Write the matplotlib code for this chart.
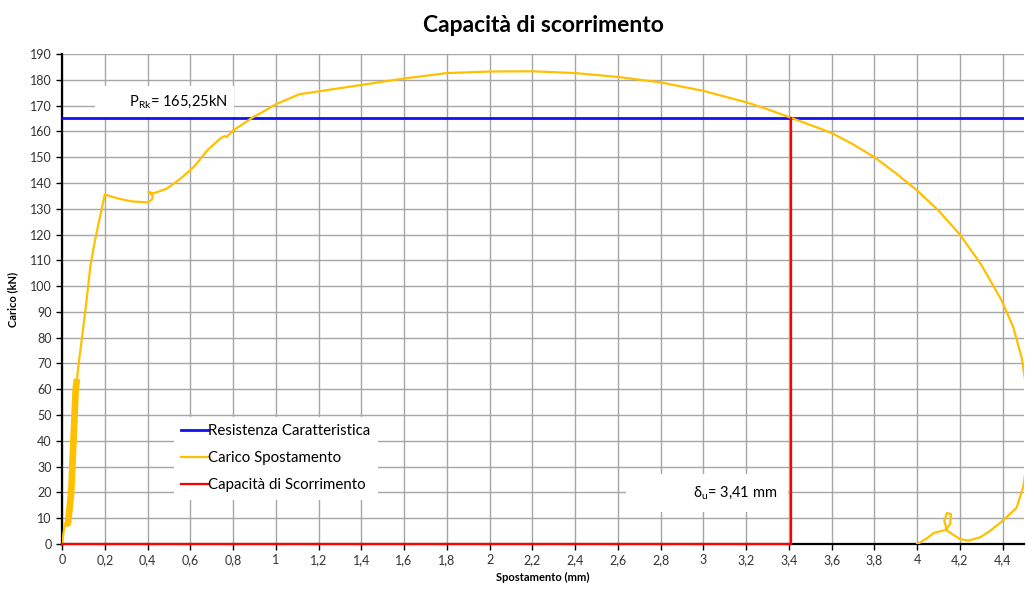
import matplotlib.pyplot as plt
from matplotlib.ticker import MultipleLocator, FuncFormatter

plt.rcParams['font.family'] = ['Lato', 'DejaVu Sans']
plt.rcParams['mathtext.default'] = 'regular'

# curva carico-spostamento (mm, kN)
# i primi punti descrivono la fascia dei cicli iniziali di assestamento
n_assestamento = 6
spostamento = [0.01, 0.016, 0.028, 0.043, 0.064, 0.07,
               0.078, 0.098, 0.115, 0.133, 0.155, 0.178, 0.2, 0.26, 0.33, 0.4, 0.42, 0.425,
               0.405, 0.43, 0.49, 0.555, 0.62, 0.68, 0.74, 0.76, 0.77, 0.8, 0.89, 0.94, 1.0,
               1.11, 1.2, 1.4, 1.6, 1.8, 2.0, 2.2, 2.4, 2.6, 2.8, 3.0, 3.2, 3.3, 3.41, 3.5,
               3.6, 3.7, 3.8, 3.9, 4.0, 4.1, 4.2, 4.3, 4.395, 4.45, 4.49, 4.51, 4.53, 4.51,
               4.496, 4.465, 4.4, 4.34, 4.295, 4.24, 4.2, 4.14, 4.127, 4.14, 4.158, 4.155,
               4.132, 4.078, 4.047, 4.008, 4.0]
carico = [6, 8, 8, 20, 60, 64,
          70, 83, 94.5, 108, 118, 127, 135.5, 134, 132.8, 132.5, 133.5, 135,
          136.5, 136, 137.8, 141.7, 146.5, 152.7, 157.2, 158.2, 157.8, 160.3, 165.3, 167.6, 170.5,
          174.4, 175.5, 178, 180.5, 182.6, 183.2, 183.3, 182.6, 181.1, 179, 175.7, 171.3, 168.6, 165.25, 162.5,
          159.4, 155, 150, 143.8, 137.1, 129.3, 120, 108.3, 94.5, 84, 72, 61, 45, 30,
          22, 14, 9, 5, 2.6, 1.3, 1.9, 5.2, 9.0, 12.0, 11.6, 7.75,
          5.4, 4.3, 2.3, 0.26, 0]

p_rk = 165.25      # resistenza caratteristica (kN)
delta_u = 3.41     # capacità di scorrimento (mm)

fig = plt.figure(figsize=(10.26, 5.90), dpi=100)
ax = fig.add_axes([62 / 1026, 46 / 590, 962 / 1026, 490 / 590])

giallo = '#ffc000'
ax.plot([0, 4.5], [p_rk, p_rk], color='#1010f0', lw=2.0, label='Resistenza Caratteristica', zorder=3)
ax.plot([0] + spostamento[:2], [0] + carico[:2], color=giallo, lw=1.6, zorder=4)
ax.plot(spostamento[1:n_assestamento], carico[1:n_assestamento], color=giallo, lw=4.8,
        solid_capstyle='butt', zorder=4)
ax.plot(spostamento[n_assestamento - 1:], carico[n_assestamento - 1:], color=giallo, lw=1.6,
        label='Carico Spostamento', zorder=4)
ax.plot([0, delta_u, delta_u], [0, 0, p_rk], color='#ff0000', lw=1.6,
        label='Capacità di Scorrimento', zorder=5, clip_on=False)

ax.set_xlim(0, 4.5)
ax.set_ylim(0, 190)
ax.xaxis.set_major_locator(MultipleLocator(0.2))
ax.yaxis.set_major_locator(MultipleLocator(10))
ax.xaxis.set_major_formatter(FuncFormatter(lambda v, p: f'{round(v, 1):g}'.replace('.', ',')))
ax.grid(True, color='#a6a6a6', lw=1.0)
ax.set_axisbelow(True)

for s in ['top', 'right']:
    ax.spines[s].set_visible(False)
for s in ['left', 'bottom']:
    ax.spines[s].set_color('black')
    ax.spines[s].set_linewidth(1.6)
ax.tick_params(direction='out', length=4, width=1, color='black', labelsize=9, labelcolor='#333333')

ax.set_title('Capacità di scorrimento', fontsize=16.5, fontweight='bold', pad=16)
ax.set_xlabel('Spostamento (mm)', fontsize=8, fontweight='bold', labelpad=4)
ax.set_ylabel('Carico (kN)', fontsize=8, fontweight='bold', labelpad=8)

# etichette con sfondo bianco (spazi iniziali per allargare il riquadro a sinistra)
ax.text(0.772, 171.7, ' ' * 7 + r'P$_{Rk}$= 165,25kN', fontsize=10.5, ha='right', va='center',
        bbox=dict(facecolor='white', edgecolor='none', boxstyle='square,pad=0.5'), zorder=3)
ax.text(3.345, 19.8, ' ' * 15 + r'δ$_{u}$= 3,41 mm', fontsize=10.5, ha='right', va='center',
        bbox=dict(facecolor='white', edgecolor='none', boxstyle='square,pad=0.75'), zorder=3)

leg = ax.legend(loc='upper left', bbox_to_anchor=(104 / 962, 135 / 490), frameon=True,
                fontsize=10.8, handlelength=1.8, handletextpad=0.0, labelspacing=0.88,
                borderpad=0.5, fancybox=False)
leg.get_frame().set_edgecolor('none')
leg.get_frame().set_facecolor('white')
leg.get_frame().set_alpha(1)

fig.savefig('out.png', dpi=100)
